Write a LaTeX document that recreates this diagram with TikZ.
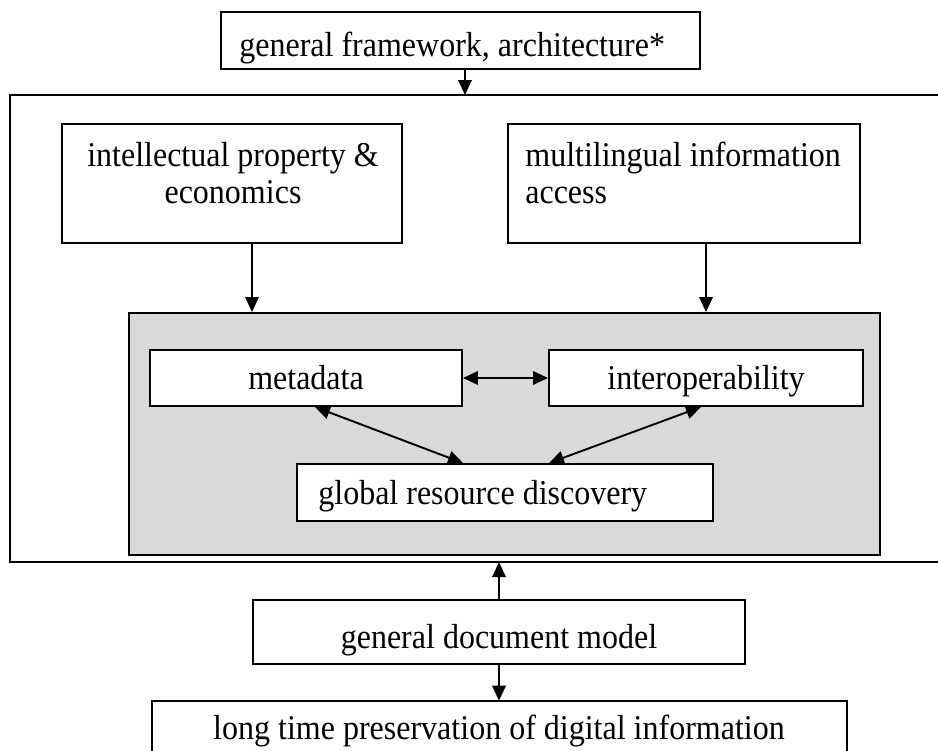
\documentclass[tikz,border=0pt]{standalone}
\usepackage{fontspec}
\setmainfont[FakeStretch=0.92]{Liberation Serif}
\usetikzlibrary{arrows.meta,fit}
\tikzset{
  ln/.style={line width=1.1pt},
  box/.style={ln,draw,fill=white,inner sep=0pt},
  grbox/.style={ln,draw,fill=gray!30,inner sep=0pt},
  txt/.style={inner sep=0pt,font=\fontsize{19.8}{21}\selectfont},
  tip/.tip={Triangle[length=0.3cm,width=0.27cm]},
  arr/.style={ln,-tip},
  darr/.style={ln,tip-tip}
}
\begin{document}
\begin{tikzpicture}[x=0.02cm,y=-0.02cm]
\useasboundingbox (0,0) rectangle (938,751);
% top box
\node[box,fit={(221,12) (700,69)}] (top) {};
\node[txt,anchor=base west] (toptxt) at (239,56) {general framework, architecture*};
% outer frame (open on the right)
\draw[ln] (945,95) -- (10,95) -- (10,562) -- (945,562);
\coordinate (ftop) at (465,95);
\coordinate (fbot) at (499,562);
\draw[arr] (top.south -| ftop) -- (ftop);
% upper boxes
\node[box,fit={(62,124) (402,243)}] (ip) {};
\node[txt,align=center,anchor=base] (iptxt) at (233,203) {intellectual property \&\\economics};
\node[box,fit={(508,124) (860,243)}] (ml) {};
\node[txt,align=left,anchor=base west] (mltxt) at (525,203) {multilingual information\\access};
% gray area
\node[grbox,fit={(129,313) (880,555)}] (gray) {};
\coordinate (ipx) at (252,0);
\coordinate (mlx) at (706,0);
\draw[arr] (ip.south -| ipx) -- (gray.north -| ipx);
\draw[arr] (ml.south -| mlx) -- (gray.north -| mlx);
% inner boxes
\node[box,fit={(150,350) (462,406)}] (meta) {};
\node[txt,anchor=base] (metatxt) at (306,389) {metadata};
\node[box,fit={(549,350) (863,406)}] (inter) {};
\node[txt,anchor=base] (intertxt) at (706,389) {interoperability};
\node[box,fit={(297,464) (713,521)}] (grd) {};
\node[txt,anchor=base west] (grdtxt) at (318,504) {global resource discovery};
\draw[darr] (meta.east) -- (inter.west);
\coordinate (m1) at (315,0);
\coordinate (g1) at (463,0);
\coordinate (i1) at (701,0);
\coordinate (g2) at (549,0);
\draw[darr] (meta.south -| m1) -- (grd.north -| g1);
\draw[darr] (inter.south -| i1) -- (grd.north -| g2);
% bottom boxes
\node[box,fit={(253,600) (745,664)}] (gdm) {};
\node[txt,anchor=base] (gdmtxt) at (499,648) {general document model};
\draw[arr] (gdm.north -| fbot) -- (fbot);
\node[inner sep=0pt,fit={(152,701) (847,770)}] (lt) {};
\draw[ln] (lt.south west) -- (lt.north west) -- (lt.north east) -- (lt.south east);
\node[txt,anchor=base] (lttxt) at (499,739) {long time preservation of digital information};
\draw[arr] (gdm.south -| fbot) -- (lt.north -| fbot);
\end{tikzpicture}
\end{document}
